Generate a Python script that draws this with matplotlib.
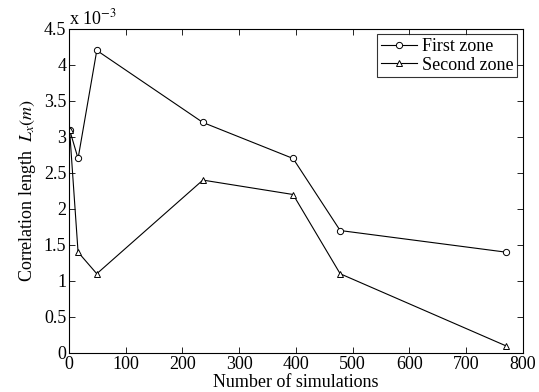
import matplotlib
matplotlib.use("Agg")
import matplotlib.pyplot as plt
from matplotlib.ticker import FuncFormatter

plt.rcParams['font.family'] = ['Liberation Serif', 'DejaVu Serif']
plt.rcParams['mathtext.fontset'] = 'stix'

# Data (correlation length in units of 1e-3 m)
n_sim = [1, 16, 49, 236, 395, 478, 770]
first_zone = [3.1, 2.7, 4.2, 3.2, 2.7, 1.7, 1.4]
second_zone = [3.1, 1.4, 1.1, 2.4, 2.2, 1.1, 0.1]

fig = plt.figure(figsize=(5.39, 3.92), dpi=100)
ax = fig.add_axes([0.128, 0.0995, 0.842, 0.827])

ax.plot(n_sim, first_zone, color='black', lw=0.8, marker='o', ms=4.5,
        mfc='white', mec='black', mew=0.7, label='First zone')
ax.plot(n_sim, second_zone, color='black', lw=0.8, marker='^', ms=5,
        mfc='white', mec='black', mew=0.7, label='Second zone')

ax.set_xlim(0, 800)
ax.set_ylim(0, 4.5)
ax.set_xticks(range(0, 801, 100))
ax.set_yticks([i * 0.5 for i in range(10)])
ax.yaxis.set_major_formatter(FuncFormatter(lambda v, p: '%g' % v))
ax.tick_params(direction='in', top=True, right=True, labelsize=13, length=4,
               width=0.6, pad=2)
for s in ax.spines.values():
    s.set_linewidth(0.8)

ax.set_xlabel('Number of simulations', fontsize=13, labelpad=1)
ax.set_ylabel('Correlation length  $L_x(m)$', fontsize=13, labelpad=4)
ax.text(0.0, 1.0, r'x 10$^{-3}$', transform=ax.transAxes, fontsize=13,
        ha='left', va='bottom')

leg = ax.legend(loc='upper right', fontsize=13, frameon=True, fancybox=False,
                edgecolor='black', handlelength=2.0, borderaxespad=0.3,
                borderpad=0.2, labelspacing=0.1, handletextpad=0.3)
leg.get_frame().set_linewidth(0.8)

fig.savefig('out.png', dpi=100)
